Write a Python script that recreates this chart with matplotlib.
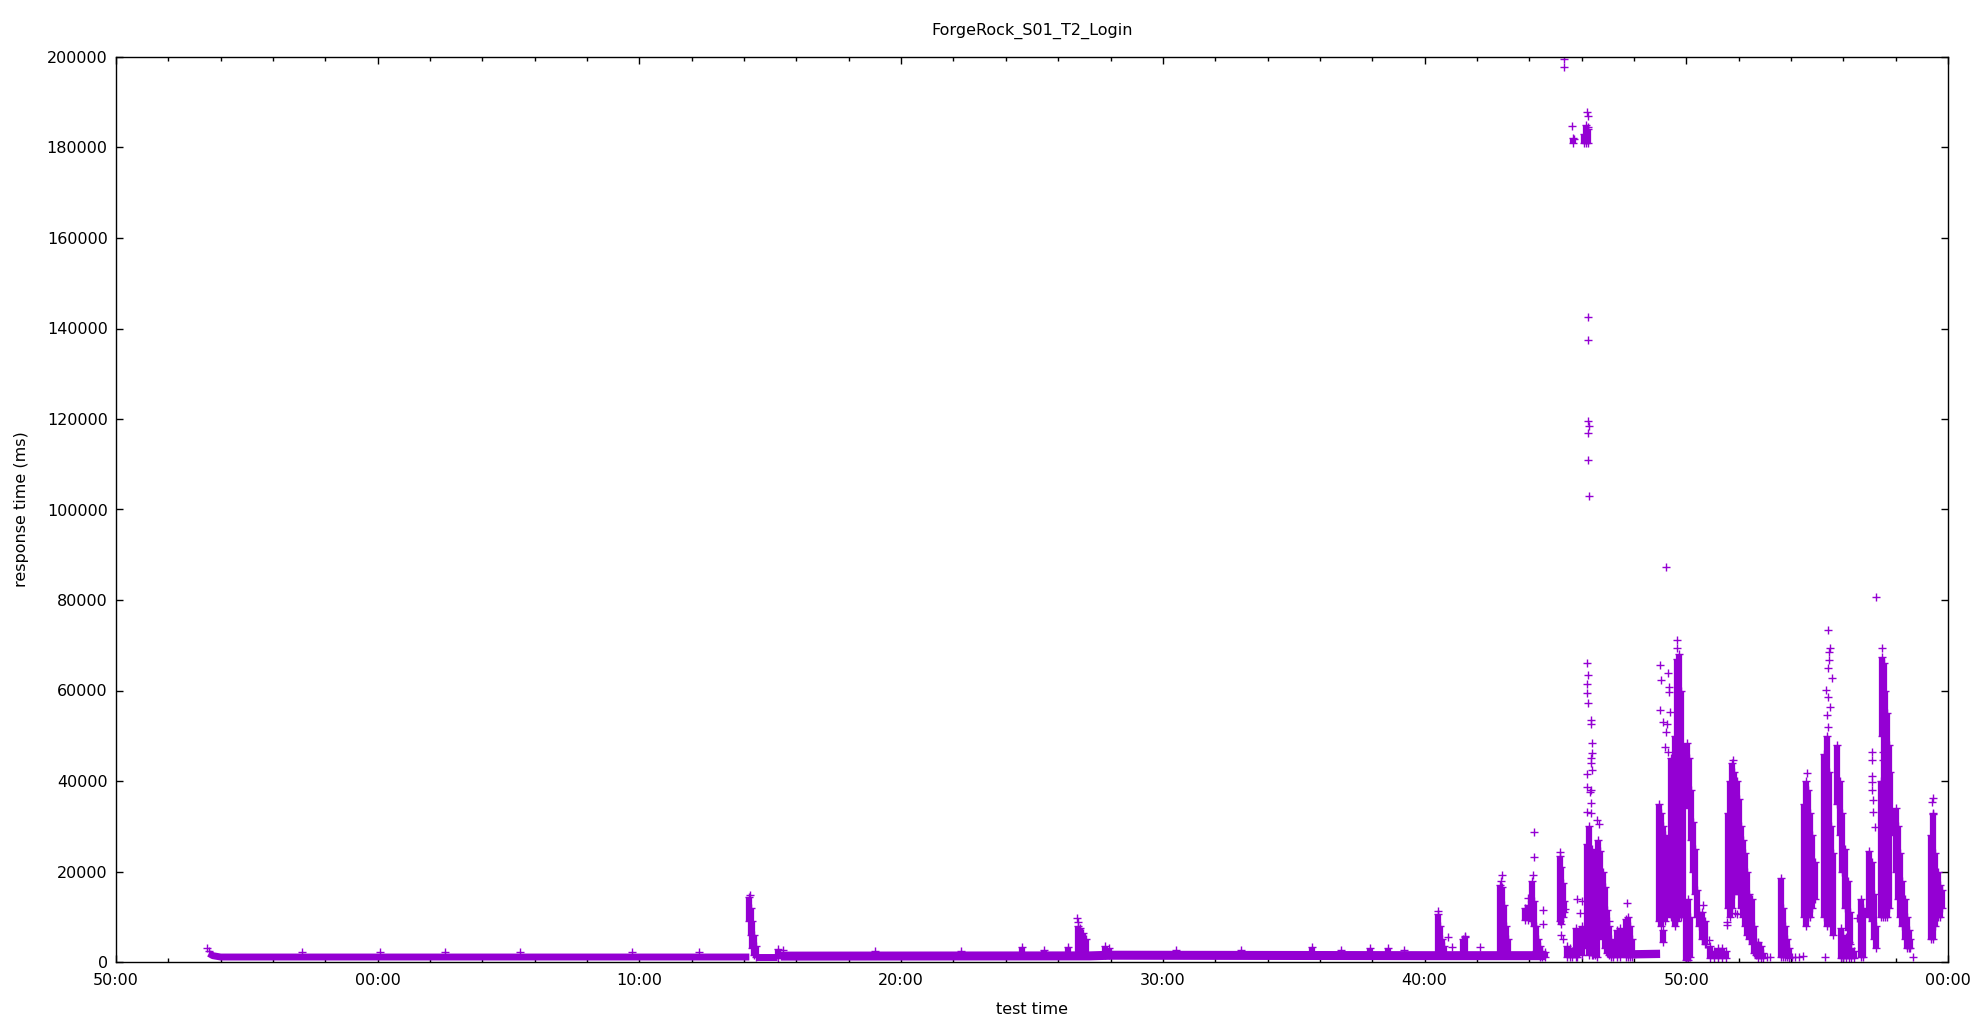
import matplotlib
matplotlib.use("Agg")
import matplotlib.pyplot as plt
from matplotlib.ticker import MultipleLocator, FuncFormatter

# time in minutes, 0 = "00:00" (first hour mark), -10 = "50:00"
purple = "#9400d3"

# baseline band (t, ms)
base_early = [(-6.45, 1900), (-6.3, 1400), (-6.0, 1100), (14.2, 1100)]
base_gap = [(14.45, 1000), (15.25, 1000)]
base_late = [(15.4, 1300), (27.2, 1350), (28.0, 1500), (40.0, 1400), (44.6, 1400)]
base_low = [(48.0, 1700), (49.0, 1800)]

# dense columns (t, low ms, high ms)
cols_early = [
    (14.20, 9000, 14300), (14.26, 6000, 12000), (14.32, 3000, 9000), (14.38, 1500, 6000), (14.44, 1000, 3500),
    (15.30, 800, 2900),
    (24.60, 1500, 3400), (25.46, 1500, 2600), (26.38, 1500, 3400),
    (26.75, 2000, 8000), (26.85, 2000, 7500), (26.95, 2000, 6500), (27.05, 1500, 5000),
    (27.80, 1500, 3500), (27.95, 1500, 3000), (35.69, 1500, 3400), (37.90, 1500, 3000), (38.60, 1500, 3000),
]
cols_40s = [
    (40.52, 1500, 10500), (40.60, 1500, 8000), (40.68, 1500, 5000), (40.76, 1500, 3500),
    (41.45, 1500, 5000), (41.55, 1500, 5500),
    (42.87, 2000, 17000), (42.95, 2000, 16500), (43.02, 2000, 12500), (43.10, 1500, 8000), (43.18, 1500, 5000),
    (43.85, 9300, 12000), (43.95, 9300, 12500), (44.05, 9500, 12000), (44.12, 9000, 18000), (44.18, 8000, 13500),
    (44.25, 2500, 8000), (44.32, 1500, 5000), (44.40, 1200, 3500), (44.50, 1000, 2500), (44.60, 1200, 2200),
    (45.17, 9000, 23500), (45.22, 8500, 21000), (45.28, 10000, 17500), (45.34, 11000, 13500),
    (45.45, 1200, 3500), (45.55, 1200, 3000), (45.65, 1200, 2500),
    (45.77, 1200, 7500), (45.83, 1200, 6500), (46.02, 1500, 8000),
    (46.10, 181000, 183000), (46.18, 181000, 185000), (46.26, 181000, 184000), (45.66, 181000, 182000),
    (46.20, 3000, 26000), (46.30, 1500, 30000), (46.38, 1500, 25000), (46.45, 1500, 18000),
    (46.50, 1500, 11000), (46.57, 1200, 9000), (46.64, 9000, 27000), (46.72, 7000, 24500), (46.80, 5000, 20000),
    (46.88, 3000, 16500), (46.96, 2000, 11500), (47.04, 1500, 8000), (47.12, 1200, 5000), (47.20, 1200, 2500),
    (47.35, 1200, 7000), (47.45, 1200, 7500),
    (47.68, 1200, 9500), (47.76, 1200, 10000), (47.84, 1200, 8000), (47.92, 1200, 5000),
    (48.95, 9000, 35000), (49.02, 8000, 33000), (49.10, 10000, 30000), (49.18, 9000, 28000), (49.12, 4500, 7000),
    (49.42, 10000, 45000), (49.50, 10000, 40000), (49.58, 8000, 50000), (49.65, 9000, 67000),
    (49.72, 10000, 68000), (49.80, 10000, 60000), (49.86, 12000, 40000),
]
cols_50s = [
    (49.98, 500, 12000), (50.08, 500, 14000), (50.16, 1000, 10000),
    (50.02, 40000, 48500), (50.10, 34000, 45000), (50.18, 27000, 38000), (50.26, 20000, 31000),
    (50.34, 15000, 25000), (50.42, 10000, 16000), (50.50, 8000, 11000),
    (50.60, 5000, 11000), (50.70, 4000, 9000),
    (50.90, 800, 3500), (51.05, 800, 2500), (51.20, 800, 3000), (51.35, 800, 3000), (51.50, 800, 2500),
    (51.60, 12000, 33000), (51.68, 10000, 40000), (51.76, 12000, 44000), (51.84, 15000, 42000),
    (51.92, 18000, 40000), (52.00, 15000, 36000), (52.08, 12000, 30000), (52.16, 10000, 27000),
    (52.24, 8000, 24000), (52.32, 6000, 20000), (52.40, 5000, 15000),
    (52.50, 4000, 14000), (52.58, 2000, 8000), (52.66, 1500, 4500), (52.75, 800, 4500), (52.85, 800, 3500), (52.95, 800, 2000),
    (53.60, 1200, 18500), (53.68, 1200, 12000), (53.76, 1200, 8000), (53.84, 1000, 5000), (53.92, 800, 3000),
    (54.50, 10000, 35000), (54.58, 8000, 40000), (54.66, 10000, 38000), (54.74, 10000, 33000),
    (54.82, 12000, 28000), (54.90, 14000, 22000),
    (55.28, 10000, 46000), (55.36, 8000, 50000), (55.44, 10000, 42000), (55.52, 8000, 30000), (55.60, 6000, 24000),
    (55.76, 35000, 48000), (55.86, 28000, 40000), (55.96, 20000, 33000), (56.06, 12000, 25000),
    (56.16, 7000, 18000), (56.26, 4000, 11000),
    (55.90, 800, 7500), (56.00, 800, 6000), (56.10, 800, 5500), (56.20, 800, 4500), (56.30, 800, 3000), (56.40, 800, 2500),
    (56.68, 1200, 14000), (56.76, 1200, 12000),
    (57.00, 10000, 24500), (57.08, 9000, 22000), (57.16, 5000, 15000), (57.24, 3000, 8000),
    (57.45, 10000, 40000), (57.48, 50000, 67500), (57.54, 40000, 66000), (57.52, 10000, 35000),
    (57.60, 10000, 60000), (57.66, 25000, 55000), (57.68, 10000, 30000), (57.74, 12000, 48000), (57.80, 28000, 42000),
    (58.02, 20000, 34000), (58.10, 14000, 30000), (58.18, 10000, 24000), (58.26, 8000, 18000),
    (58.34, 5000, 14000), (58.42, 3000, 10000), (58.50, 3000, 7000), (58.56, 3000, 5000),
    (59.36, 5000, 28000), (59.44, 5000, 33000), (59.52, 8000, 24000), (59.60, 10000, 20000),
    (59.68, 10000, 17000), (59.76, 12000, 16000),
]

# single samples standing apart
points = [
    (-6.52, 3100), (-6.45, 2500), (-2.9, 2300), (0.09, 2300), (2.57, 2300), (5.44, 2300), (9.72, 2300), (12.28, 2300),
    (15.5, 2600), (19.0, 2500), (22.3, 2500), (30.5, 2600), (33.0, 2600), (36.8, 2600), (39.2, 2700),
    (14.21, 14800), (26.72, 9700), (26.76, 8900),
    (40.53, 11200), (40.90, 5600), (41.05, 3400), (41.55, 5800), (42.12, 3400),
    (42.95, 19200), (42.93, 17800),
    (44.18, 28800), (44.18, 23300), (44.16, 19200), (43.97, 14200), (44.52, 11500), (44.54, 8500),
    (45.18, 24200), (45.22, 6000), (45.30, 5000), (45.37, 11700),
    (45.81, 14000), (45.92, 10800), (46.00, 13500),
    (45.33, 199500), (45.34, 197700), (45.62, 184800), (45.72, 181800),
    (46.22, 187900), (46.24, 187000), (46.26, 184500),
    (46.25, 142500), (46.25, 137500), (46.23, 119500), (46.27, 118500), (46.25, 117000), (46.25, 111000), (46.27, 103000),
    (46.22, 66000), (46.23, 63400), (46.22, 61400), (46.21, 59400), (46.24, 57200), (46.36, 53500), (46.37, 52500),
    (46.40, 48300), (46.38, 46100), (46.37, 45000), (46.36, 43900), (46.38, 42400), (46.22, 41600), (46.20, 38700),
    (46.35, 38000), (46.37, 35100), (46.33, 37500), (46.20, 33200), (46.35, 33000),
    (46.58, 31400), (46.68, 30600), (47.05, 9000), (47.72, 13100),
    (49.00, 65600), (49.02, 62300), (48.99, 55700), (49.32, 63800), (49.35, 60800), (49.35, 59700), (49.12, 53100),
    (49.28, 52700), (49.38, 55300), (49.23, 50900), (49.19, 47600), (49.32, 46500), (49.23, 87400),
    (49.66, 71200), (49.64, 69500),
    (50.65, 12500), (50.75, 4000), (50.85, 4800), (51.55, 8900), (51.56, 8200),
    (51.77, 44600), (51.86, 10800), (51.92, 10600),
    (53.10, 1200), (53.20, 1200), (54.05, 1200), (54.15, 1200), (54.30, 1200), (54.45, 1300), (55.30, 1200),
    (54.63, 41700),
    (55.40, 73400), (55.50, 69300), (55.47, 68500), (55.45, 66700), (55.42, 64900), (55.57, 62700), (55.34, 60100),
    (55.40, 58600), (55.50, 56400), (55.37, 54600), (55.40, 52000),
    (56.52, 9700),
    (57.09, 46300), (57.09, 44600), (57.09, 41100), (57.10, 39800), (57.10, 38000), (57.12, 35900), (57.13, 33200), (57.22, 29900),
    (57.25, 80700),
    (57.47, 69300), (57.50, 46500), (57.52, 44600),
    (58.68, 1200),
    (59.42, 36200), (59.40, 35400), (59.42, 32800),
]

fig = plt.figure(figsize=(19.8, 10.24), dpi=100)
ax = fig.add_axes([116 / 1980, 1 - 962 / 1024, (1948 - 116) / 1980, (962 - 57) / 1024])

for seg, w in [(base_early, 5), (base_gap, 5), (base_late, 6.5), (base_low, 6)]:
    ax.plot([p[0] for p in seg], [p[1] for p in seg], color=purple, lw=w, solid_capstyle="butt")

for cols in [cols_early, cols_40s, cols_50s]:
    ct = [c[0] for c in cols]
    ax.vlines(ct, [c[1] for c in cols], [c[2] for c in cols], color=purple, lw=4.5)
    ax.plot(ct, [c[2] for c in cols], "+", color=purple, ms=6, mew=1)
    ax.plot(ct, [c[1] for c in cols], "+", color=purple, ms=6, mew=1)

ax.plot([p[0] for p in points], [p[1] for p in points], "+", color=purple, ms=6, mew=1)

ax.set_xlim(-10, 60)
ax.set_ylim(0, 200000)
ax.xaxis.set_major_locator(MultipleLocator(10))
ax.xaxis.set_minor_locator(MultipleLocator(2))
ax.xaxis.set_major_formatter(FuncFormatter(lambda t, pos: f"{int(round(t)) % 60:02d}:00"))
ax.yaxis.set_major_locator(MultipleLocator(20000))
ax.tick_params(which="both", direction="in", top=True, right=True, labelsize=11.5, width=1)
ax.tick_params(which="major", length=5)
ax.tick_params(which="minor", length=3)
ax.tick_params(axis="x", pad=8)
ax.tick_params(axis="y", pad=6)
for s in ax.spines.values():
    s.set_linewidth(1)

ax.set_title("ForgeRock_S01_T2_Login", fontsize=11.5, pad=16)
ax.set_xlabel("test time", fontsize=11.5, labelpad=10)
ax.set_ylabel("response time (ms)", fontsize=11.5, labelpad=13)

fig.savefig("out.png", dpi=100)
